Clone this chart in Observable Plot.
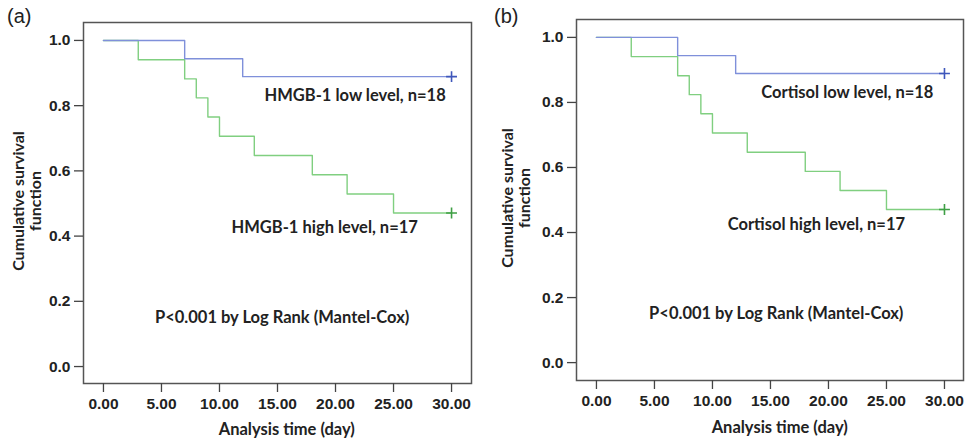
<!DOCTYPE html>
<html>
<head>
<meta charset="utf-8">
<script src="https://cdn.jsdelivr.net/npm/d3@7"></script>
<script src="https://cdn.jsdelivr.net/npm/@observablehq/plot@0.6"></script>
<style>
  html, body { margin: 0; padding: 0; background: #fff; }
  #wrap { position: relative; width: 968px; height: 441px; overflow: hidden; }
  .panel { position: absolute; top: 0; }
  .tag { position: absolute; top: 5px; font-family: "Liberation Sans", Arial, sans-serif; font-size: 20px; line-height: 22px; color: #222; }
  .ytitle { position: absolute; width: 220px; height: 36px; line-height: 17px; text-align: center;
    font-family: Lato, "Open Sans", sans-serif; font-weight: bold; font-size: 16px; color: #222;
    transform: rotate(-90deg); transform-origin: 50% 50%; white-space: pre; }
</style>
</head>
<body>
<div id="wrap"></div>
<script>
// ---- data ----
const xTicks = [0, 5, 10, 15, 20, 25, 30];
const yTicks = [0, 0.2, 0.4, 0.6, 0.8, 1.0];

const lowTimes  = [0, 7, 12, 30];
const lowSurv   = [1.0, 0.944, 0.889, 0.889];
const highTimes = [0, 3, 7, 8, 9, 10, 13, 18, 21, 25, 30];
const highSurv  = [1.0, 0.941, 0.882, 0.824, 0.765, 0.706, 0.647, 0.588, 0.529, 0.471, 0.471];
const censorTimes = [30, 30];
const censorSurv  = [0.889, 0.471];
const censorGroup = ["low", "high"];

const panelTags   = ["(a)", "(b)"];
const lowLabels   = ["HMGB-1 low level, n=18", "Cortisol low level, n=18"];
const highLabels  = ["HMGB-1 high level, n=17", "Cortisol high level, n=17"];
const pLabel      = "P<0.001 by Log Rank (Mantel-Cox)";
const xTitle      = "Analysis time (day)";
const yTitle      = "Cumulative survival\nfunction";

const lowData  = lowTimes.map((t, i) => ({t, s: lowSurv[i]}));
const highData = highTimes.map((t, i) => ({t, s: highSurv[i]}));
const censorData = censorTimes.map((t, i) => ({t, s: censorSurv[i], g: censorGroup[i]}));

const BLUE = "#7f90da", GREEN = "#80cf80";
const BLUE_D = "#3f57bb", GREEN_D = "#3f9f45";
const labelFont = "Lato, 'Open Sans', sans-serif";
const tickFont = "'Liberation Sans', Arial, sans-serif";
const LFS = 16.5, LFW = "bold";

function panel(cfg, k) {
  return Plot.plot({
    width: 484, height: 441,
    marginLeft: cfg.ml, marginRight: cfg.mr, marginTop: cfg.mt, marginBottom: cfg.mb,
    x: {domain: cfg.xd},
    y: {domain: cfg.yd},
    style: {background: "transparent", overflow: "visible"},
    marks: [
      Plot.frame({stroke: "#555", strokeWidth: 1.5}),
      Plot.axisY({ticks: yTicks, tickFormat: d3.format(".1f"), tickSize: 9, tickPadding: 4,
        fontSize: 15.5, fontWeight: "bold", fontFamily: tickFont, fill: "#222", stroke: "#444", strokeWidth: 1.3, label: null}),
      Plot.axisX({ticks: xTicks, tickFormat: d3.format(".2f"), tickSize: 9, tickPadding: 5,
        fontSize: 15.5, fontWeight: "bold", fontFamily: tickFont, fill: "#222", stroke: "#444", strokeWidth: 1.3, label: null}),
      Plot.line(highData, {x: "t", y: "s", curve: "step-after", stroke: GREEN, strokeWidth: 1.4}),
      Plot.line(lowData, {x: "t", y: "s", curve: "step-after", stroke: BLUE, strokeWidth: 1.4}),
      Plot.dot(censorData, {x: "t", y: "s", symbol: "plus", r: 3.6, strokeWidth: 1.6,
        stroke: d => d.g === "low" ? BLUE_D : GREEN_D}),
      Plot.text([lowLabels[k]], {text: d => d, x: cfg.lowX, y: 0.831, textAnchor: "end",
        fontFamily: labelFont, fontWeight: LFW, fontSize: LFS, fill: "#222"}),
      Plot.text([highLabels[k]], {text: d => d, x: cfg.highX, y: 0.425, textAnchor: "end",
        fontFamily: labelFont, fontWeight: LFW, fontSize: LFS, fill: "#222"}),
      Plot.text([pLabel], {text: d => d, x: cfg.pX, y: 0.151, textAnchor: "middle",
        fontFamily: labelFont, fontWeight: LFW, fontSize: LFS, fill: "#222"}),
      Plot.text([xTitle], {text: d => d, x: 15.8, frameAnchor: "bottom", dy: cfg.xtDy,
        fontFamily: labelFont, fontWeight: LFW, fontSize: LFS, fill: "#222"})
    ]
  });
}

const cfgs = [
  {left: 0,   ml: 83, mr: 13, mt: 22, mb: 58, xd: [-1.72, 31.72], yd: [-0.052, 1.055],
   lowX: 29.5, highX: 27.1, pX: 15.4, xtDy: 51, ytCx: 26.5, ytCy: 201, tagLeft: 7},
  {left: 484, ml: 92, mr: 5,  mt: 19, mb: 61, xd: [-1.72, 31.64], yd: [-0.055, 1.055],
   lowX: 29.05, highX: 26.6, pX: 15.5, xtDy: 52, ytCx: 516, ytCy: 198, tagLeft: 494}
];

const wrap = document.getElementById("wrap");
cfgs.forEach((cfg, k) => {
  const p = panel(cfg, k);
  p.classList.add("panel");
  p.style.left = cfg.left + "px";
  wrap.appendChild(p);
  const tag = document.createElement("div");
  tag.className = "tag";
  tag.style.left = cfg.tagLeft + "px";
  tag.textContent = panelTags[k];
  wrap.appendChild(tag);
  const yt = document.createElement("div");
  yt.className = "ytitle";
  yt.style.left = (cfg.ytCx - 110) + "px";
  yt.style.top = (cfg.ytCy - 18) + "px";
  yt.textContent = yTitle;
  wrap.appendChild(yt);
});
</script>
</body>
</html>
